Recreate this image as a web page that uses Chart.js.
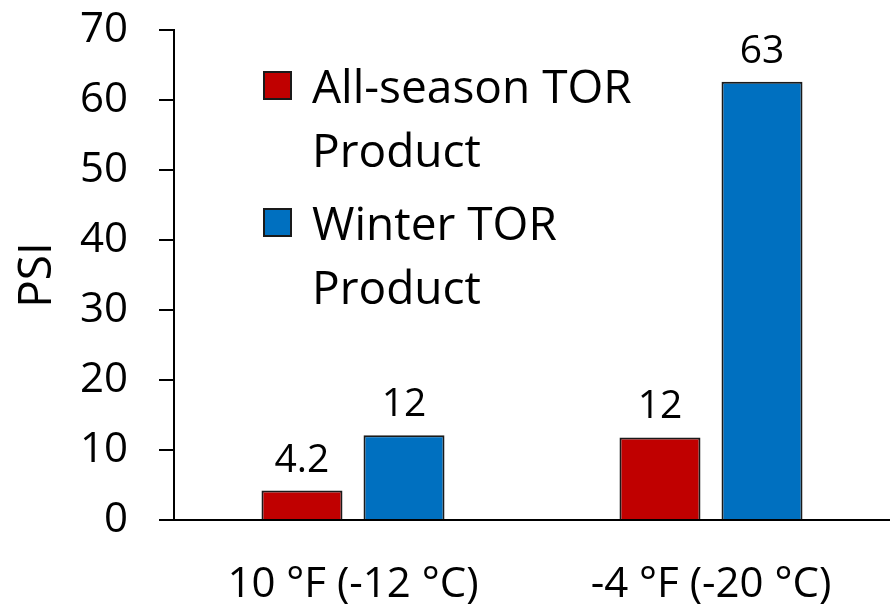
<!DOCTYPE html>
<html>
<head>
<meta charset="utf-8">
<script src="https://cdn.jsdelivr.net/npm/chart.js@4.4.1/dist/chart.umd.min.js"></script>
<style>
  html, body { margin: 0; padding: 0; background: #fff; }
</style>
</head>
<body>
<canvas id="psiChart" width="890" height="605"></canvas>
<script>
// categories and series
const categories = ['10 °F (-12 °C)', '-4 °F (-20 °C)'];
const allSeason = [4.2, 11.8];
const winter = [12.1, 62.6];
const seriesNames = ['All-season TOR Product', 'Winter TOR Product'];
const legendLines = [['All-season TOR', 'Product'], ['Winter TOR', 'Product']];
const yTicks = [0, 10, 20, 30, 40, 50, 60, 70];

const FONT = '"Open Sans", "Noto Sans", sans-serif';

// value labels above each bar
const barLabels = {
  id: 'barLabels',
  afterDatasetsDraw(chart) {
    const ctx = chart.ctx;
    ctx.save();
    ctx.font = '39px ' + FONT;
    ctx.fillStyle = '#000';
    ctx.textAlign = 'center';
    ctx.textBaseline = 'alphabetic';
    chart.data.datasets.forEach((ds, i) => {
      chart.getDatasetMeta(i).data.forEach((bar, j) => {
        const txt = String(Number(ds.data[j].toPrecision(2)));
        ctx.fillText(txt, bar.x, bar.y - 19);
      });
    });
    ctx.restore();
  }
};

// legend drawn inside the plot area, with wrapped labels
const insideLegend = {
  id: 'insideLegend',
  afterDraw(chart) {
    const {ctx, chartArea} = chart;
    ctx.save();
    chart.data.datasets.forEach((ds, i) => {
      const bx = chartArea.left + 90;
      const by = chartArea.top + 42 + i * 137;
      ctx.fillStyle = ds.backgroundColor;
      ctx.fillRect(bx, by, 27, 27);
      ctx.strokeStyle = '#1a1a1a';
      ctx.lineWidth = 2;
      ctx.strokeRect(bx, by, 27, 27);
      ctx.font = '46px ' + FONT;
      ctx.fillStyle = '#000';
      ctx.textAlign = 'left';
      ctx.textBaseline = 'alphabetic';
      legendLines[i].forEach((line, j) => {
        ctx.fillText(line, chartArea.left + 138, chartArea.top + 73 + i * 137 + j * 64);
      });
    });
    ctx.restore();
  }
};

const ctx = document.getElementById('psiChart').getContext('2d');
new Chart(ctx, {
  type: 'bar',
  data: {
    labels: categories,
    datasets: [
      {
        label: seriesNames[0],
        data: allSeason,
        backgroundColor: '#C00000',
        borderColor: '#1a1a1a',
        borderWidth: 2,
        categoryPercentage: 0.57,
        barPercentage: 0.794
      },
      {
        label: seriesNames[1],
        data: winter,
        backgroundColor: '#0070C0',
        borderColor: '#1a1a1a',
        borderWidth: 2,
        categoryPercentage: 0.57,
        barPercentage: 0.794
      }
    ]
  },
  options: {
    responsive: false,
    devicePixelRatio: 1,
    animation: false,
    layout: { padding: { top: 30, right: 0, bottom: 0, left: 0 } },
    plugins: {
      legend: { display: false },
      tooltip: { enabled: false }
    },
    scales: {
      x: {
        grid: { display: false, drawTicks: false },
        border: { display: true, color: '#000', width: 2 },
        ticks: { color: '#000', font: { family: FONT, size: 42 }, padding: 40, maxRotation: 0 },
        afterFit(scale) { scale.height = 85; }
      },
      y: {
        min: 0,
        max: 70,
        afterBuildTicks(scale) { scale.ticks = yTicks.map(v => ({ value: v })); },
        grid: { display: true, drawOnChartArea: false, drawTicks: true, tickLength: 15, color: '#000', lineWidth: 2 },
        border: { display: true, color: '#000', width: 2 },
        ticks: { color: '#000', font: { family: FONT, size: 42 }, padding: 31 },
        title: { display: true, text: 'PSI', color: '#000', font: { family: FONT, size: 46 }, padding: { top: 10, bottom: 0 } },
        afterFit(scale) {
          scale.width = 174;
          scale.paddingTop = 0;
          scale.paddingBottom = 0;
        }
      }
    }
  },
  plugins: [barLabels, insideLegend]
});
</script>
</body>
</html>
